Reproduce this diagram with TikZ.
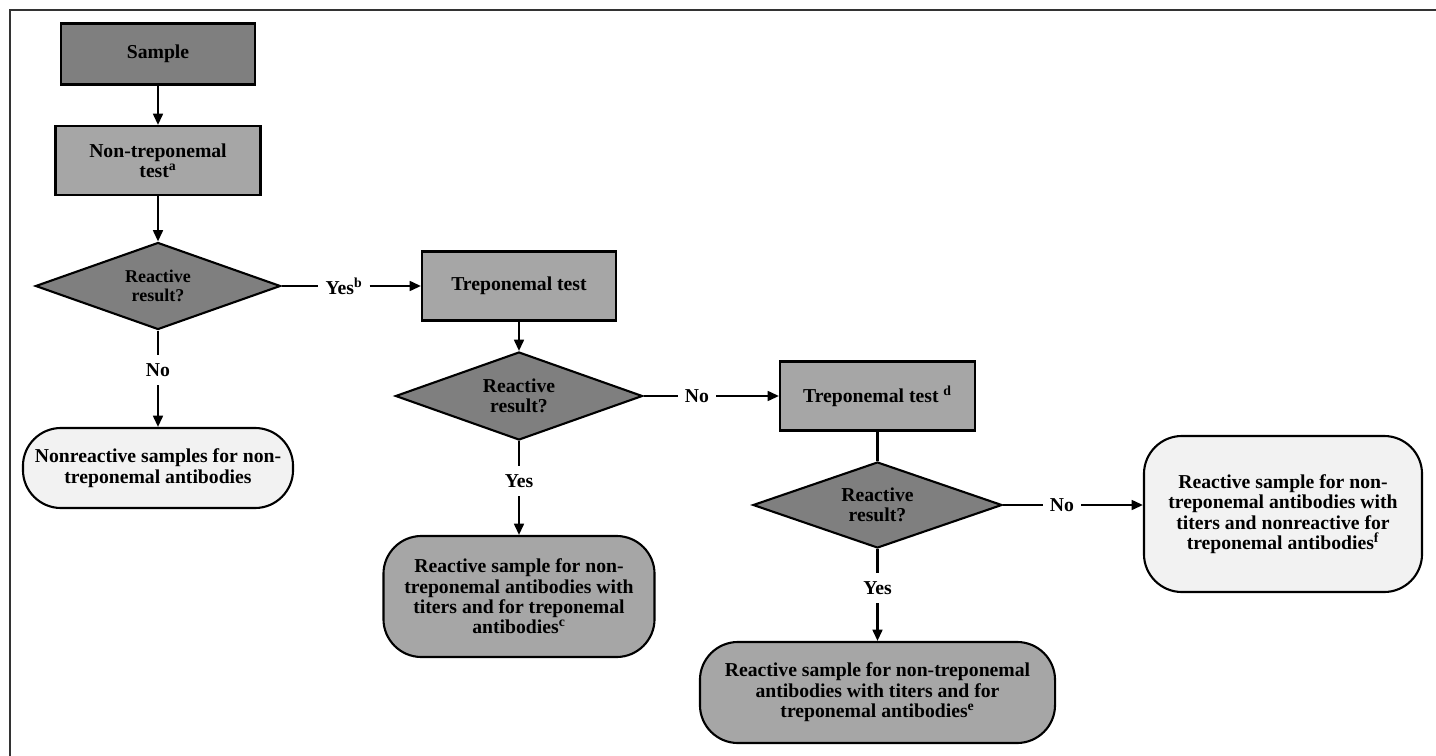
\documentclass[tikz,border=0pt]{standalone}
\usepackage{fontspec}
\setmainfont{Liberation Serif}
\usepackage{tikz}
\usetikzlibrary{shapes.geometric, arrows.meta, positioning}
\definecolor{flowdark}{RGB}{127,127,127}
\definecolor{flowmid}{RGB}{166,166,166}
\definecolor{flowlight}{RGB}{242,242,242}
\definecolor{framegray}{RGB}{51,51,51}

\begin{document}
\begin{tikzpicture}[
  x=0.025cm, y=-0.025cm,
  every node/.style={font=\fontsize{14}{14.5}\selectfont\bfseries},
  testbox/.style={rectangle, draw=black, line width=1.5pt, fill=flowmid,
                  align=center, inner sep=2pt},
  decision/.style={diamond, draw=black, line width=1.5pt, fill=flowdark,
                   align=center, inner sep=0pt, aspect=3},
  endbox/.style={rectangle, draw=black, line width=1.5pt, fill=flowlight,
                 rounded corners=0.95cm, align=center, inner sep=2pt},
  lbl/.style={inner xsep=5pt, inner ysep=6pt},
  line/.style={line width=1.5pt},
  arr/.style={-{Triangle[length=8pt, width=7pt]}, line width=1.5pt},
]

\useasboundingbox (0,0) rectangle (1436,756);
\draw[framegray, line width=0.8pt] (1436,10) -- (10,10) -- (10,756);

\node[testbox, fill=flowdark, minimum width=4.85cm, minimum height=1.525cm] (sample) at (158,54) {Sample};
\node[testbox, minimum width=5.125cm, minimum height=1.725cm] (nontrep) at (158,160.5) {Non-treponemal\\test\textsuperscript{a}};
\node[decision, minimum width=6.125cm, minimum height=2.175cm,
      font=\fontsize{12.8}{14}\selectfont\bfseries] (react1) at (158,286) {Reactive\\result?};
\node[lbl] (yesb) at (344,286) {Yes\textsuperscript{b}};
\node[testbox, minimum width=4.85cm, minimum height=1.725cm] (trep) at (519,286) {Treponemal test};
\node[lbl] (no1) at (158,370) {No};
\node[endbox, minimum width=6.75cm, minimum height=2cm] (nonreact) at (158,468)
  {Nonreactive samples for non-\\treponemal antibodies};

\node[decision, minimum width=6.175cm, minimum height=2.2cm] (react2) at (519,396) {Reactive\\result?};
\node[lbl] (no2) at (697,396) {No};
\node[testbox, minimum width=4.875cm, minimum height=1.725cm] (trepd) at (877.5,396) {Treponemal test \textsuperscript{d}};
\node[lbl] (yes2) at (519,481) {Yes};
\node[endbox, fill=flowmid, minimum width=6.775cm, minimum height=3.025cm] (resc) at (519,596.5)
  {Reactive sample for non-\\treponemal antibodies with\\titers and for treponemal\\antibodies\textsuperscript{c}};

\node[decision, minimum width=6.225cm, minimum height=2.15cm] (react3) at (877.5,505) {Reactive\\result?};
\node[lbl] (no3) at (1062,505) {No};
\node[endbox, minimum width=6.95cm, minimum height=3.9cm] (resf) at (1283,514)
  {Reactive sample for non-\\treponemal antibodies with\\titers and nonreactive for\\treponemal antibodies\textsuperscript{f}};
\node[lbl] (yes3) at (877.5,588) {Yes};
\node[endbox, fill=flowmid, minimum width=8.875cm, minimum height=2.525cm] (rese) at (877.5,692.5)
  {Reactive sample for non-treponemal\\antibodies with titers and for\\treponemal antibodies\textsuperscript{e}};

\draw[arr]  (sample)  -- (nontrep);
\draw[arr]  (nontrep) -- (react1);
\draw[line] (react1.east) -- (yesb.west);
\draw[arr]  (yesb.east) -- (trep.west);
\draw[line] (react1.south) -- (no1.north);
\draw[arr]  (no1.south) -- (nonreact.north);
\draw[arr]  (trep) -- (react2);
\draw[line] (react2.east) -- (no2.west);
\draw[arr]  (no2.east) -- (trepd.west);
\draw[line] (react2.south) -- (yes2.north);
\draw[arr]  (yes2.south) -- (resc.north);
\draw[line] (trepd) -- (react3);
\draw[line] (react3.east) -- (no3.west);
\draw[arr]  (no3.east) -- (no3.east -| resf.west);
\draw[line] (react3.south) -- (yes3.north);
\draw[arr]  (yes3.south) -- (rese.north);

\end{tikzpicture}
\end{document}
